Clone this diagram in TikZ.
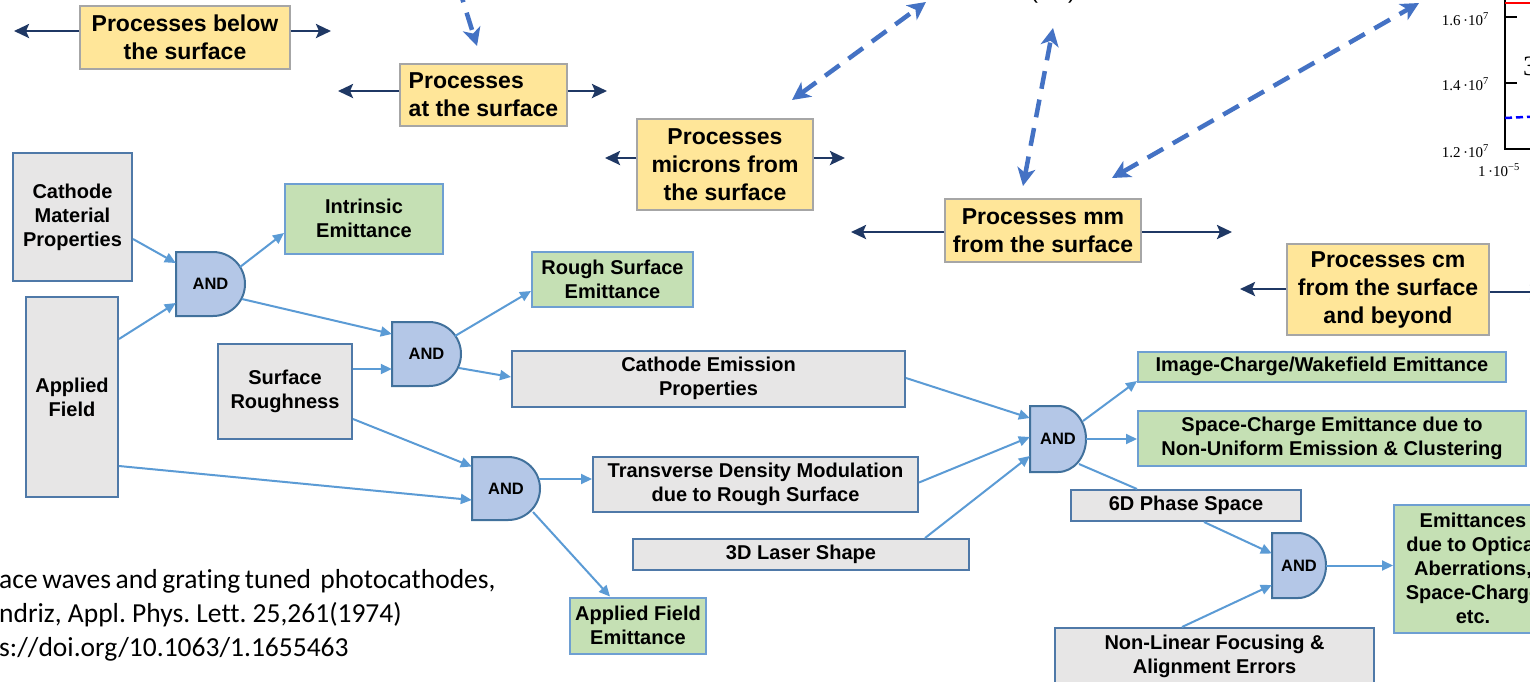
\documentclass[tikz,border=0pt]{standalone}
\usepackage{fontspec}
\setmainfont{Liberation Sans}
\newfontfamily\citefont[Ligatures=NoCommon]{Carlito}
\newfontfamily\plotfont{Liberation Serif}
\usetikzlibrary{arrows.meta,calc}
\frenchspacing
\definecolor{yfill}{HTML}{FFE699}
\definecolor{ydraw}{HTML}{A6A6A6}
\definecolor{navy}{HTML}{1F3864}
\definecolor{dashblue}{HTML}{4472C4}
\definecolor{gfill}{HTML}{E7E6E6}
\definecolor{gdraw}{HTML}{4F79A8}
\definecolor{grfill}{HTML}{C5E0B4}
\definecolor{grdraw}{HTML}{6E9FD2}
\definecolor{andfill}{HTML}{B4C7E7}
\definecolor{anddraw}{HTML}{41719C}
\definecolor{conn}{HTML}{5B9BD5}
\tikzset{dtip/.tip={Stealth[length=18pt,width=18pt,inset=5pt]}}
\newcommand\andgate[6]{%
  \pgfmathsetmacro\gR{#2+#4}%
  \pgfmathsetmacro\gS{#2+#4-#6}%
  \pgfmathsetmacro\gB{#3+#5}%
  \pgfmathsetmacro\gM{#3+#5/2}%
  \pgfmathsetmacro\gk{0.5523*#6}%
  \pgfmathsetmacro\gky{0.5523*#5/2}%
  \filldraw[fill=andfill, draw=anddraw, line width=2pt] (#2,#3) -- (\gS,#3) .. controls (\gS+\gk,#3) and (\gR,\gM-\gky) .. (\gR,\gM) .. controls (\gR,\gM+\gky) and (\gS+\gk,\gB) .. (\gS,\gB) -- (#2,\gB) -- cycle;
  \node[andtext, minimum width=#4pt, minimum height=#5pt] (#1) at ({#2+#4/2},\gM) {AND};
}
\begin{document}
\begin{tikzpicture}[x=1pt,y=-1pt,
  ybox/.style={draw=ydraw, fill=yfill, line width=1.5pt, inner sep=0pt, align=center, font=\bfseries\fontsize{23}{28}\selectfont},
  gbox/.style={draw=gdraw, fill=gfill, line width=2pt, inner sep=0pt, align=center, font=\bfseries\fontsize{20}{24}\selectfont},
  grbox/.style={draw=grdraw, fill=grfill, line width=2pt, inner sep=0pt, align=center, font=\bfseries\fontsize{20}{24}\selectfont},
  sz/.style 2 args={minimum width=#1pt, minimum height=#2pt},
  navyarrow/.style={draw=navy, line width=2.6pt, -{Stealth[length=15pt,width=14pt,inset=3pt]}},
  dasharrow/.style={draw=dashblue, line width=4.5pt, dash pattern=on 18pt off 11pt},
  conna/.style={draw=conn, line width=2pt, -{Triangle[length=11pt,width=10pt]}},
  connl/.style={draw=conn, line width=2pt},
  andtext/.style={inner sep=0pt, font=\bfseries\fontsize{16.5}{18}\selectfont},
  plotlab/.style={inner sep=0pt, font=\plotfont\fontsize{15}{18}\selectfont},
  cite/.style={anchor=base west, inner sep=0pt, font=\citefont\fontsize{27.5}{34}\selectfont},
]
\useasboundingbox (0,0) rectangle (1530,681);
\fill[white] (0,0) rectangle (1530,681);
\clip (0,0) rectangle (1530,681);

% yellow process boxes
\node[ybox, sz={210}{63}] (yb1) at (185,37.5) {Processes below\\the surface};
\node[ybox, sz={167}{62}, align=left] (yb2) at (483.5,95) {Processes\\at the surface};
\node[ybox, sz={176}{91}] (yb3) at (725,164.5) {Processes\\microns from\\the surface};
\node[ybox, sz={196}{63}] (yb4) at (1043,230.5) {Processes mm\\from the surface};
\node[ybox, sz={202}{91}] (yb5) at (1388,289.5) {Processes cm\\from the surface\\and beyond};

\coordinate (yb1l) at (14,31);   \coordinate (yb1r) at (331,31);
\coordinate (yb2l) at (338,91);  \coordinate (yb2r) at (607,91);
\coordinate (yb3l) at (605,158); \coordinate (yb3r) at (845,158);
\coordinate (yb4l) at (851,232); \coordinate (yb4r) at (1232,232);
\coordinate (yb5l) at (1240,289); \coordinate (yb5r) at (1545,292);
\foreach \b in {yb1,yb2,yb3,yb4,yb5}{
  \draw[navyarrow] (\b.west |- \b l) -- (\b l);
  \draw[navyarrow] (\b.east |- \b r) -- (\b r);
}

% dashed blue arrows
\coordinate (d1a) at (458,-15);  \coordinate (d1b) at (477,46);
\coordinate (d2a) at (792,100);  \coordinate (d2b) at (926,2);
\coordinate (d3a) at (1023,186); \coordinate (d3b) at (1053,28);
\coordinate (d4a) at (1112,178); \coordinate (d4b) at (1419,3);
\draw[dasharrow, -{dtip}] (d1a) -- (d1b);
\draw[dasharrow, {dtip}-{dtip}] (d2a) -- (d2b);
\draw[dasharrow, {dtip}-{dtip}] (d3a) -- (d3b);
\draw[dasharrow, {dtip}-{dtip}] (d4a) -- (d4b);

% cut-off text at the top
\node[anchor=base, inner sep=0pt, font=\fontsize{23}{28}\selectfont] (topcut) at (1053,-2) {(\hspace{30pt})};

% plot fragment
\coordinate (axt) at (1505,-5);
\coordinate (axo) at (1505,149);
\coordinate (axr) at (1545,149);
\draw[black, line width=1.5pt] (axt) -- (axo) -- (axr);
\draw[black, line width=1.5pt] (1505,17) -- (1517,17) (1505,83) -- (1517,83);
\draw[red, line width=2.5pt] (1505,3) -- (1545,3);
\draw[blue, line width=2.5pt, dash pattern=on 7pt off 4pt] (1505,118) -- (1545,116);
\node[plotlab, anchor=base east] (l16) at (1489,25) {1.6\,·10\textsuperscript{7}};
\node[plotlab, anchor=base east] (l14) at (1489,90) {1.4\,·10\textsuperscript{7}};
\node[plotlab, anchor=base east] (l12) at (1489,157) {1.2\,·10\textsuperscript{7}};
\node[plotlab, anchor=base west] (l1m5) at (1478,176) {1\,·10\textsuperscript{−5}};
\node[anchor=west, inner sep=0pt, font=\plotfont\fontsize{28}{30}\selectfont] (p3) at (1523,66) {3};

% gray input boxes
\node[gbox, sz={119}{128}] (cmp) at (72.5,217) {Cathode\\Material\\Properties};
\node[gbox, sz={92}{200}] (af) at (72,397) {Applied\\Field};
\node[gbox, sz={134}{95}] (sr) at (285,391.5) {Surface\\Roughness};
\node[gbox, sz={393}{56}] (cep) at (708.5,378.5) {Cathode Emission\\Properties};
\node[gbox, sz={325}{55}] (tdm) at (755.5,484) {Transverse Density Modulation\\due to Rough Surface};
\node[gbox, sz={336}{31}] (laser) at (801,554.5) {3D Laser Shape};
\node[gbox, sz={230}{31}] (ps6) at (1186,505.5) {6D Phase Space};
\node[gbox, sz={319}{56}] (nlf) at (1214.5,656) {Non-Linear Focusing \&\\Alignment Errors};

% green output boxes
\node[grbox, sz={158}{70}] (ie) at (364,218.5) {Intrinsic\\Emittance};
\node[grbox, sz={161}{55}] (rse) at (612.5,279) {Rough Surface\\Emittance};
\node[grbox, sz={136}{56}] (afe) at (638,625.5) {Applied Field\\Emittance};
\node[grbox, sz={368}{30}] (ice) at (1322,366.5) {Image-Charge/Wakefield Emittance};
\node[grbox, sz={388}{55}] (sce) at (1332,438.5) {Space-Charge Emittance due to\\Non-Uniform Emission \& Clustering};
\node[grbox, sz={158}{128}] (eoa) at (1473,568.5) {Emittances\\due to Optical\\Aberrations,\\Space-Charge\\etc.};

% AND gates
\andgate{and1}{176}{252}{69}{64}{32}
\andgate{and2}{392}{322}{69}{64}{32}
\andgate{and3}{472}{457}{68}{63}{32}
\andgate{and4}{1030}{406}{56}{66}{28}
\andgate{and5}{1272}{533}{54}{65}{28}

% connectors
\draw[conna] ($(cmp.east)+(0,22)$) -- ($(and1.west)+(0,-21)$);
\draw[conna] ($(af.east)+(0,-58)$) -- ($(and1.west)+(0,19)$);
\draw[conna] ($(and1.center)+(29.5,-17)$) -- ($(ie.west)+(0,14.5)$);
\draw[conna] ($(and1.center)+(31.5,15)$) -- ($(and2.west)+(0,-20)$);
\draw[conna] ($(sr.east)+(0,-22.5)$) -- ($(and2.west)+(0,15)$);
\draw[conna] ($(and2.center)+(28.5,-18)$) -- ($(rse.west)+(0,12)$);
\draw[conna] ($(and2.center)+(32.5,14)$) -- ($(cep.west)+(0,-1.5)$);
\draw[conna] ($(sr.east)+(0,27.5)$) -- ($(and3.west)+(0,-22)$);
\draw[conna] ($(af.east)+(0,69)$) -- ($(and3.west)+(0,11.5)$);
\draw[conna] ($(and3.center)+(32.5,-9.5)$) -- ($(tdm.west)+(0,-5)$);
\draw[conna] ($(and3.center)+(27,23.5)$) -- ($(afe.north)+(-28,0)$);
\draw[conna] ($(cep.east)+(0,-0.5)$) -- ($(and4.west)+(0,-21)$);
\draw[conna] ($(tdm.east)+(0,-1.5)$) -- ($(and4.west)+(0,-2)$);
\draw[conna] ($(laser.north)+(124,0)$) -- ($(and4.west)+(0,17)$);
\draw[conna] ($(and4.center)+(25,-18)$) -- ($(ice.west)+(0,14.5)$);
\draw[conna] (and4.east) -- (and4.east -| sce.west);
\draw[connl] ($(and4.center)+(21,25)$) -- ($(ps6.north)+(-49,0)$);
\draw[conna] ($(ps6.south)+(18,0)$) -- ($(and5.west)+(0,-12)$);
\draw[conna] ($(nlf.north)+(-32.5,0)$) -- ($(and5.west)+(0,19.5)$);
\draw[conna] (and5.east) -- (and5.east -| eoa.west);

% citation fragment
\node[cite] (cit1) at (-1,588) {\spaceskip=0.17em ace waves and grating tuned\ \ photocathodes,};
\node[cite] (cit2) at (-1,622) {ndriz, Appl. Phys. Lett. 25,261(1974)};
\node[cite] (cit3) at (-1,656) {s://doi.org/10.1063/1.1655463};
\end{tikzpicture}
\end{document}
